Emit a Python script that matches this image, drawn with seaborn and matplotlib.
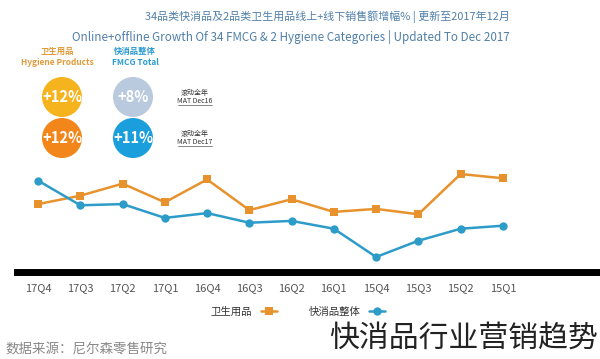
import matplotlib
matplotlib.use("Agg")
import matplotlib.pyplot as plt
import seaborn as sns
import pandas as pd
from matplotlib.patches import Circle

sns.set_theme(style="white")
plt.rcParams['font.family'] = ['Noto Sans CJK SC', 'DejaVu Sans']

quarters = ["17Q4", "17Q3", "17Q2", "17Q1", "16Q4", "16Q3",
            "16Q2", "16Q1", "15Q4", "15Q3", "15Q2", "15Q1"]
hygiene = [11.3, 12.7, 14.7, 11.6, 15.4, 10.3, 12.1, 10.0, 10.5, 9.6, 16.3, 15.6]
fmcg = [15.2, 11.1, 11.3, 9.0, 9.8, 8.2, 8.5, 7.2, 2.5, 5.2, 7.2, 7.7]
series_names = ["卫生用品", "快消品整体"]
badge_values = {"MAT Dec16": ["+12%", "+8%"], "MAT Dec17": ["+12%", "+11%"]}

ORANGE = "#E8922E"
BLUE = "#2E9CC8"

df = pd.DataFrame({
    "quarter": quarters * 2,
    "value": hygiene + fmcg,
    "series": [series_names[0]] * len(quarters) + [series_names[1]] * len(quarters),
})

W, H = 600, 359
fig = plt.figure(figsize=(W / 100, H / 100), dpi=100)

ax = fig.add_axes([17 / W, 1 - 272 / H, 1 - 17 / W, 122 / H])
sns.lineplot(data=df, x="quarter", y="value", hue="series", style="series",
             palette=[ORANGE, BLUE], markers=["s", "o"], dashes=False,
             markersize=6, markeredgewidth=0, linewidth=1.8, sort=False, ax=ax)
ax.set_xlim(-0.5, 13.3)
ax.set_ylim(0, 20.3)
ax.set_yticks([])
ax.set_xlabel("")
ax.set_ylabel("")
for s in ["top", "right", "left"]:
    ax.spines[s].set_visible(False)
ax.spines["bottom"].set_color("black")
ax.spines["bottom"].set_linewidth(5)
ax.tick_params(axis="x", length=0, pad=8, labelsize=8, labelcolor="#555555")
ax.legend_.remove()

handles, labels = ax.get_legend_handles_labels()
fig.legend(handles, labels, loc="center", bbox_to_anchor=(298 / W, 1 - 312 / H),
           ncol=2, frameon=False, markerfirst=False, fontsize=7.5,
           handlelength=1.6, columnspacing=3.0, labelcolor="#333333")

# overlay for header, badges and notes (pixel coordinates)
ov = fig.add_axes([0, 0, 1, 1], facecolor="none")
ov.set_xlim(0, W)
ov.set_ylim(H, 0)
ov.axis("off")

ov.text(510, 17, "34品类快消品及2品类卫生用品线上+线下销售额增幅% | 更新至2017年12月",
        ha="right", va="center", fontsize=7.9, color="#4F7FA8")
ov.text(510, 37, "Online+offline Growth Of 34 FMCG & 2 Hygiene Categories | Updated To Dec 2017",
        ha="right", va="center", fontsize=8.4, color="#4F7FA8")

ov.text(57, 57, "卫生用品\nHygiene Products", ha="center", va="center",
        fontsize=6, color="#E39B3A", fontweight="bold", linespacing=1.3)
ov.text(135, 57, "快消品整体\nFMCG Total", ha="center", va="center",
        fontsize=6, color="#2A9AD0", fontweight="bold", linespacing=1.3)

badge_rows = [("MAT Dec16", 97, ["#F5B41E", "#B9C9DE"]),
              ("MAT Dec17", 138, ["#F3861A", "#1A9EDC"])]
for key, cy, cols in badge_rows:
    for cx, col, txt in zip([62, 133], cols, badge_values[key]):
        ov.add_patch(Circle((cx, cy), 20, color=col, lw=0))
        ov.text(cx, cy, txt, ha="center", va="center", fontsize=10.5,
                color="white", fontweight="bold")
    ov.text(195, cy - 4, "滚动全年", ha="center", va="center", fontsize=5,
            color="#333333")
    ov.text(195, cy + 4, key, ha="center", va="center", fontsize=5,
            color="#333333")
    ov.plot([178, 212], [cy + 8, cy + 8], color="#555555", lw=0.5)

ov.text(5, 349, "数据来源：尼尔森零售研究", ha="left", va="center",
        fontsize=9.7, color="#888888")
ov.text(598, 338, "快消品行业营销趋势", ha="right", va="center",
        fontsize=21.5, color="#222222", fontweight="light")

fig.savefig("out.png", dpi=100, facecolor="white")
